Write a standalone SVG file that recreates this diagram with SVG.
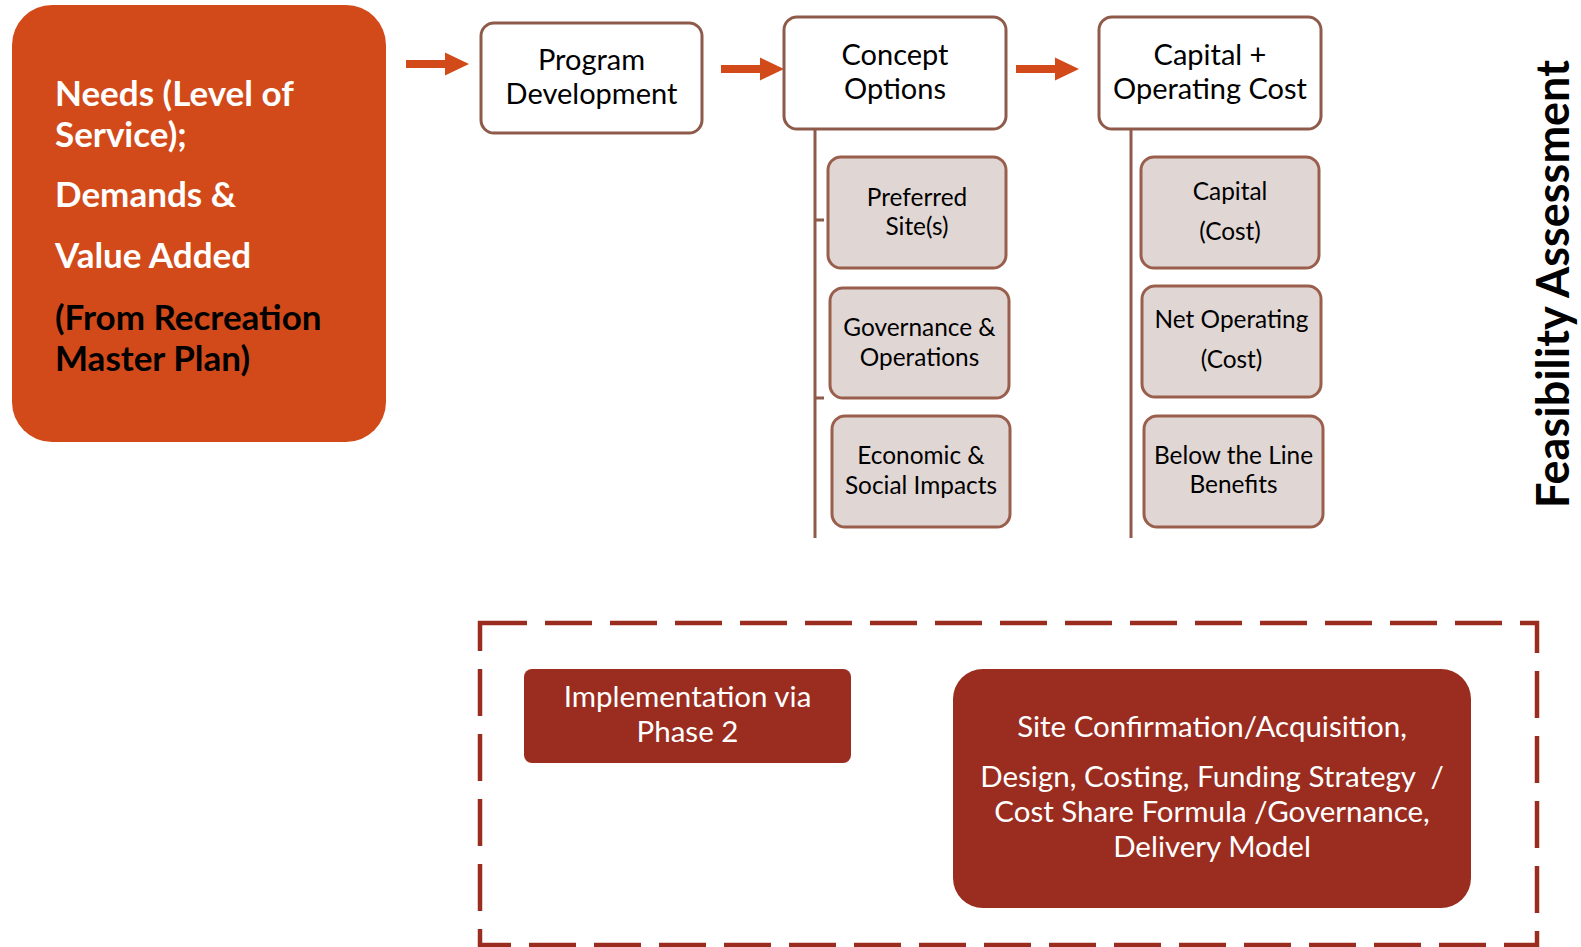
<svg xmlns="http://www.w3.org/2000/svg" width="1581" height="947" viewBox="0 0 1581 947">
<style>
.main{fill:#ffffff;stroke:#8E5B4B;stroke-width:3}
.sub{fill:#E0D6D4;stroke:#9A5E4D;stroke-width:3}
.t{font-family:Lato,"Open Sans",sans-serif;fill:#000;text-anchor:middle}
.tm{font-size:29px}
.ts{font-size:24.4px}
.tw{font-family:Lato,"Open Sans",sans-serif;fill:#fff;text-anchor:middle;font-size:29.5px}
.ob{font-family:Lato,"Open Sans",sans-serif;font-weight:bold;font-size:35px}
.arr{fill:#D24A1A}
.vline{stroke:#8E5B4B;stroke-width:3;fill:none}
</style>
<g id="needs">
<rect x="12" y="5" width="374" height="437" rx="40" fill="#D24A1A"/>
<text class="ob" fill="#fff" x="55" y="106">Needs (Level of</text>
<text class="ob" fill="#fff" x="55" y="147">Service);</text>
<text class="ob" fill="#fff" x="55" y="207">Demands &amp;</text>
<text class="ob" fill="#fff" x="55" y="268">Value Added</text>
<text class="ob" fill="#000" x="55" y="330">(From Recreation</text>
<text class="ob" fill="#000" x="55" y="371">Master Plan)</text>
</g>
<g id="connectors">
<path class="arr" d="M406,60 H445 V52.5 L469,64 L445,75.5 V68 H406 Z"/>
<path class="arr" d="M721,65 H760 V57.5 L784,69 L760,80.5 V73 H721 Z"/>
<path class="arr" d="M1016,65 H1055 V57.5 L1079,69 L1055,80.5 V73 H1016 Z"/>
<path class="vline" d="M815,129 V538 M815,220 H824 M815,398 H824"/>
<path class="vline" d="M1131,129 V538"/>
</g>
<g id="program">
<rect class="main" x="481" y="23" width="221" height="110" rx="13"/>
<text class="t tm" x="591.5" y="70">Program</text>
<text class="t tm" x="591.5" y="104">Development</text>
</g>
<g id="concept">
<rect class="main" x="784" y="17" width="222" height="112" rx="13"/>
<text class="t tm" x="895" y="65">Concept</text>
<text class="t tm" x="895" y="99">Options</text>
</g>
<g id="capital-operating">
<rect class="main" x="1099" y="17" width="222" height="112" rx="13"/>
<text class="t tm" x="1210" y="65">Capital +</text>
<text class="t tm" x="1210" y="99">Operating Cost</text>
</g>
<g id="preferred">
<rect class="sub" x="828" y="157" width="178" height="111" rx="13"/>
<text class="t ts" x="917" y="206">Preferred</text>
<text class="t ts" x="917" y="235">Site(s)</text>
</g>
<g id="governance">
<rect class="sub" x="830" y="288" width="179" height="110" rx="13"/>
<text class="t ts" x="919.5" y="336">Governance &amp;</text>
<text class="t ts" x="919.5" y="366">Operations</text>
</g>
<g id="economic">
<rect class="sub" x="832" y="416" width="178" height="111" rx="13"/>
<text class="t ts" x="921" y="464">Economic &amp;</text>
<text class="t ts" x="921" y="494">Social Impacts</text>
</g>
<g id="capital">
<rect class="sub" x="1141" y="157" width="178" height="111" rx="13"/>
<text class="t ts" x="1230" y="200">Capital</text>
<text class="t ts" x="1230" y="240">(Cost)</text>
</g>
<g id="net-operating">
<rect class="sub" x="1142" y="286" width="179" height="111" rx="13"/>
<text class="t ts" x="1231.5" y="328">Net Operating</text>
<text class="t ts" x="1231.5" y="368">(Cost)</text>
</g>
<g id="below-line">
<rect class="sub" x="1144" y="416" width="179" height="111" rx="13"/>
<text class="t ts" x="1233.5" y="464">Below the Line</text>
<text class="t ts" x="1233.5" y="493">Benefits</text>
</g>
<g id="feasibility">
<text font-family="Lato,'Open Sans',sans-serif" font-weight="bold" font-size="45" text-anchor="middle" fill="#000" transform="translate(1569,284) rotate(-90)">Feasibility Assessment</text>
</g>
<g id="phase2-frame">
<rect x="480" y="623" width="1057" height="322" fill="none" stroke="#9A2D1F" stroke-width="4.5" stroke-dasharray="47 18"/>
</g>
<g id="implementation">
<rect x="524" y="669" width="327" height="94" rx="8" fill="#9A2D1F"/>
<text class="tw" x="687.5" y="707">Implementation via</text>
<text class="tw" x="687.5" y="742">Phase 2</text>
</g>
<g id="site-confirmation">
<rect x="953" y="669" width="518" height="239" rx="30" fill="#9A2D1F"/>
<text class="tw" x="1212" y="737">Site Confirmation/Acquisition,</text>
<text class="tw" x="1212" y="787" xml:space="preserve">Design, Costing, Funding Strategy  /</text>
<text class="tw" x="1212" y="822">Cost Share Formula /Governance,</text>
<text class="tw" x="1212" y="857">Delivery Model</text>
</g>
</svg>
